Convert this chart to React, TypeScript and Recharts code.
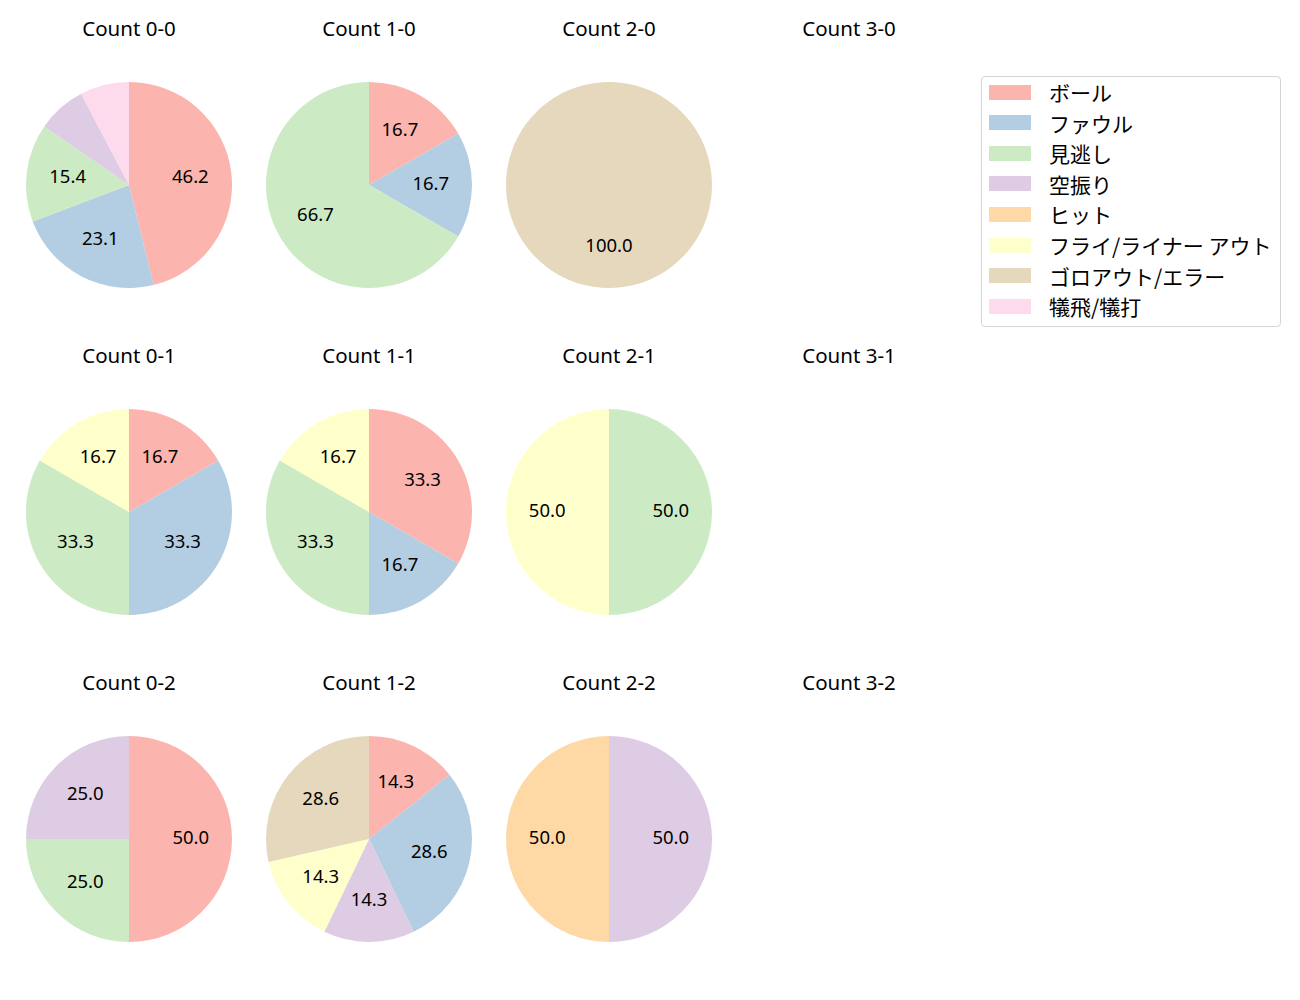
import { PieChart, Pie, Cell } from "recharts";

const categories = [
  "ボール",
  "ファウル",
  "見逃し",
  "空振り",
  "ヒット",
  "フライ/ライナー アウト",
  "ゴロアウト/エラー",
  "犠飛/犠打",
];

const colors = ["#fbb4ae", "#b3cde3", "#ccebc5", "#decbe4", "#fed9a6", "#ffffcc", "#e5d8bd", "#fddaec"];

// counts per category, same order as categories
const count00 = [6, 3, 2, 1, 0, 0, 0, 1];
const count10 = [1, 1, 4, 0, 0, 0, 0, 0];
const count20 = [0, 0, 0, 0, 0, 0, 1, 0];
const count30: number[] = [];
const count01 = [1, 2, 2, 0, 0, 1, 0, 0];
const count11 = [2, 1, 2, 0, 0, 1, 0, 0];
const count21 = [0, 0, 1, 0, 0, 1, 0, 0];
const count31: number[] = [];
const count02 = [2, 0, 1, 1, 0, 0, 0, 0];
const count12 = [1, 2, 0, 1, 0, 1, 2, 0];
const count22 = [0, 0, 0, 1, 1, 0, 0, 0];
const count32: number[] = [];

const grid = [
  [
    { title: "Count 0-0", values: count00 },
    { title: "Count 1-0", values: count10 },
    { title: "Count 2-0", values: count20 },
    { title: "Count 3-0", values: count30 },
  ],
  [
    { title: "Count 0-1", values: count01 },
    { title: "Count 1-1", values: count11 },
    { title: "Count 2-1", values: count21 },
    { title: "Count 3-1", values: count31 },
  ],
  [
    { title: "Count 0-2", values: count02 },
    { title: "Count 1-2", values: count12 },
    { title: "Count 2-2", values: count22 },
    { title: "Count 3-2", values: count32 },
  ],
];

const LATIN = '"Noto Sans", "Noto Sans CJK JP", sans-serif';
const CJK = '"Noto Sans CJK JP", "Noto Sans", sans-serif';
const colX = [129, 369, 609, 849];
const rowY = [185, 512, 839];
const R = 103;
const SIZE = 240;
const RAD = Math.PI / 180;

const renderLabel = (p: any) => {
  if (p.percent < 0.1) return null;
  const r = p.outerRadius * 0.6;
  const x = p.cx + r * Math.cos(-p.midAngle * RAD);
  const y = p.cy + r * Math.sin(-p.midAngle * RAD) - 2.5;
  return (
    <text x={x} y={y} textAnchor="middle" dominantBaseline="central" fill="#000" fontSize={18.5} fontFamily={LATIN}>
      {(p.percent * 100).toFixed(1)}
    </text>
  );
};

const PieCell = ({ title, values, cx, cy }: { title: string; values: number[]; cx: number; cy: number }) => {
  const data = values
    .map((v, i) => ({ name: categories[i], value: v, color: colors[i] }))
    .filter((d) => d.value > 0);

  return (
    <>
      <div
        style={{
          position: "absolute",
          left: cx - SIZE / 2,
          top: cy - 185 + 13,
          width: SIZE,
          textAlign: "center",
          fontSize: 20.5,
          lineHeight: "30px",
          fontFamily: LATIN,
          color: "#000",
        }}
      >
        {title}
      </div>
      {data.length > 0 && (
        <div style={{ position: "absolute", left: cx - SIZE / 2, top: cy - SIZE / 2 }}>
          <PieChart width={SIZE} height={SIZE} margin={{ top: 0, right: 0, bottom: 0, left: 0 }}>
            <Pie
              data={data}
              dataKey="value"
              cx={SIZE / 2}
              cy={SIZE / 2}
              outerRadius={R}
              startAngle={90}
              endAngle={-270}
              stroke="none"
              labelLine={false}
              label={renderLabel}
              isAnimationActive={false}
            >
              {data.map((d) => (
                <Cell key={d.name} fill={d.color} />
              ))}
            </Pie>
          </PieChart>
        </div>
      )}
    </>
  );
};

export default function App() {
  return (
    <div style={{ position: "absolute", left: 0, top: 0, width: 1300, height: 1000, background: "#fff" }}>
      {grid.map((row, ri) =>
        row.map((c, ci) => <PieCell key={c.title} title={c.title} values={c.values} cx={colX[ci]} cy={rowY[ri]} />)
      )}
      <div
        style={{
          position: "absolute",
          left: 981,
          top: 76,
          width: 298,
          height: 249,
          border: "1px solid #d5d5d5",
          borderRadius: 4,
          fontFamily: CJK,
        }}
      >
        {categories.map((name, i) => (
          <div
            key={name}
            style={{ position: "absolute", left: 0, top: 15 + i * 30.6 - 15, height: 30, display: "flex", alignItems: "center" }}
          >
            <div style={{ marginLeft: 7, width: 42, height: 15, background: colors[i] }} />
            <div style={{ marginLeft: 18, fontSize: 21, lineHeight: "30px", whiteSpace: "nowrap", color: "#000" }}>{name}</div>
          </div>
        ))}
      </div>
    </div>
  );
}
